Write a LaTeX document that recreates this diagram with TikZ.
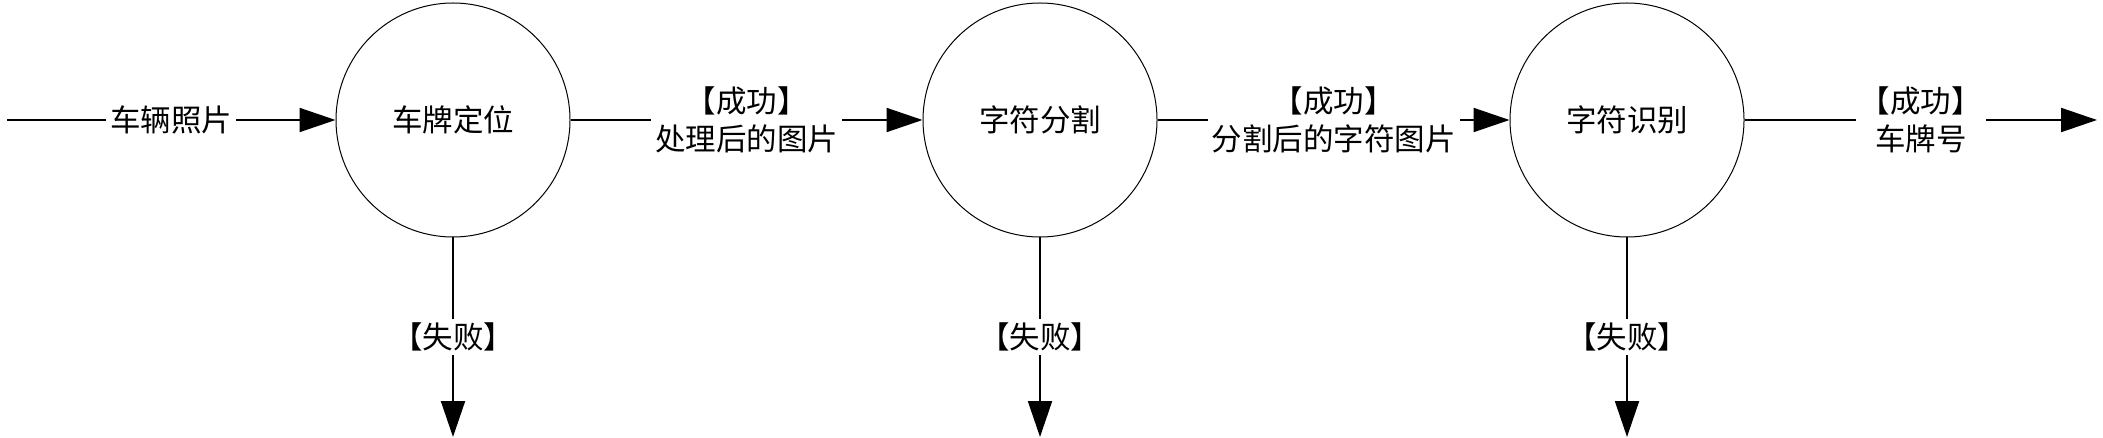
\documentclass[tikz,border=0pt]{standalone}
\usepackage{fontspec}
\newfontfamily\cjk{Noto Sans CJK SC}
\usetikzlibrary{arrows.meta}
\begin{document}
\begin{tikzpicture}[x=1pt,y=-1pt,
  txt/.style={font=\cjk\fontsize{30.5}{38}\selectfont},
  proc/.style={circle,draw,line width=1pt,minimum size=234pt,inner sep=0pt,txt},
  flow/.style={line width=2pt,-{Triangle[length=36pt,width=24pt]}},
  lbl/.style={fill=white,inner sep=4pt,align=center,txt}]
\useasboundingbox (0,0) rectangle (2103,438);
\node[proc] (p1) at (453,120) {车牌定位};
\node[proc] (p2) at (1040,120) {字符分割};
\node[proc] (p3) at (1627,120) {字符识别};
\coordinate (in) at (7,120);
\coordinate (out) at (2097,120);
\coordinate (f1) at (453,437);
\coordinate (f2) at (1040,437);
\coordinate (f3) at (1627,437);
\draw[flow] (in) -- node[lbl]{车辆照片} (p1);
\draw[flow] (p1) -- node[lbl]{【成功】\\处理后的图片} (p2);
\draw[flow] (p2) -- node[lbl]{【成功】\\分割后的字符图片} (p3);
\draw[flow] (p3) -- node[lbl]{【成功】\\车牌号} (out);
\draw[flow] (p1) -- node[lbl]{【失败】} (f1);
\draw[flow] (p2) -- node[lbl]{【失败】} (f2);
\draw[flow] (p3) -- node[lbl]{【失败】} (f3);
\end{tikzpicture}
\end{document}
